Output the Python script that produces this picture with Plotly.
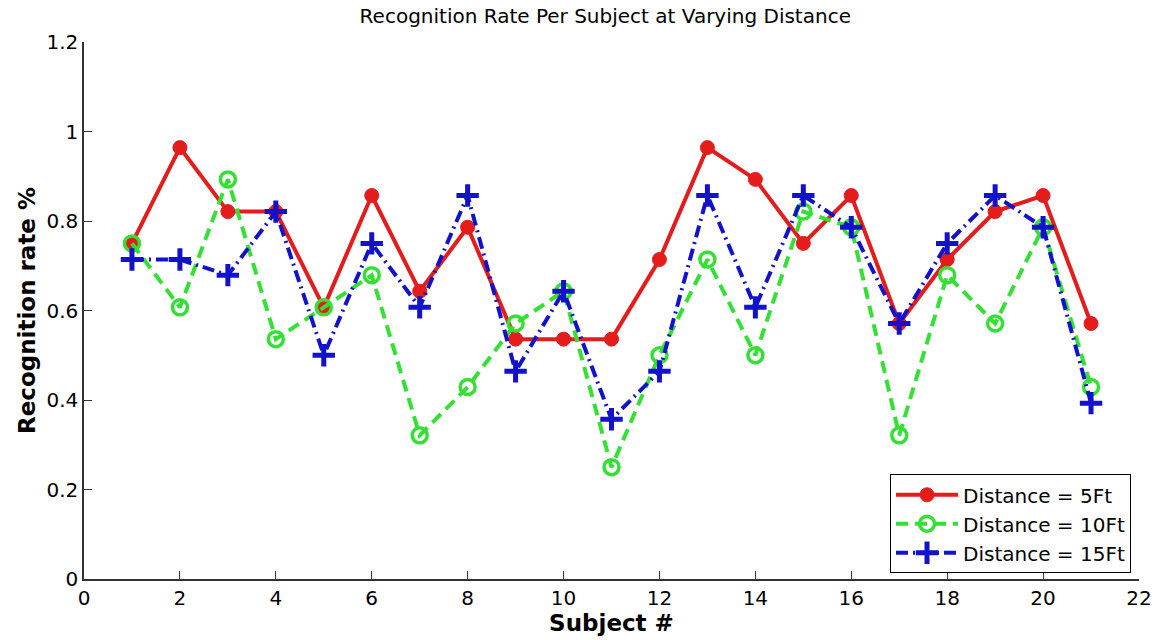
import plotly.graph_objects as go

# Recognition rate for each of the 21 subjects at three capture distances
subjects = list(range(1, 22))
rate_5ft = [0.750, 0.964, 0.821, 0.821, 0.607, 0.857, 0.643, 0.786, 0.536, 0.536, 0.536,
            0.714, 0.964, 0.893, 0.750, 0.857, 0.571, 0.714, 0.821, 0.857, 0.571]
rate_10ft = [0.750, 0.607, 0.893, 0.536, 0.607, 0.679, 0.321, 0.429, 0.571, 0.643, 0.250,
             0.500, 0.714, 0.500, 0.821, 0.786, 0.321, 0.679, 0.571, 0.786, 0.429]
rate_15ft = [0.714, 0.714, 0.679, 0.821, 0.500, 0.750, 0.607, 0.857, 0.464, 0.643, 0.357,
             0.464, 0.857, 0.607, 0.857, 0.786, 0.571, 0.750, 0.857, 0.786, 0.393]

x_ticks = [0, 2, 4, 6, 8, 10, 12, 14, 16, 18, 20, 22]
y_ticks = [0, 0.2, 0.4, 0.6, 0.8, 1.0, 1.2]
y_tick_text = ["0", "0.2", "0.4", "0.6", "0.8", "1", "1.2"]

RED = "#e41c1c"
GREEN = "#35e035"
BLUE = "#1212cc"
FONT = "DejaVu Sans, Verdana, sans-serif"

fig = go.Figure()
fig.add_trace(go.Scatter(
    x=subjects, y=rate_5ft, name="Distance = 5Ft", mode="lines+markers",
    line=dict(color=RED, width=4, dash="solid"),
    marker=dict(symbol="circle", size=14, color=RED, line=dict(color=RED, width=1)),
))
fig.add_trace(go.Scatter(
    x=subjects, y=rate_10ft, name="Distance = 10Ft", mode="lines+markers",
    line=dict(color=GREEN, width=4, dash="12px,7px"),
    marker=dict(symbol="circle-open", size=15, color=GREEN, line=dict(color=GREEN, width=3.5)),
))
fig.add_trace(go.Scatter(
    x=subjects, y=rate_15ft, name="Distance = 15Ft", mode="lines+markers",
    line=dict(color=BLUE, width=4, dash="12px,5px,2px,5px"),
    marker=dict(symbol="cross-thin", size=16, color=BLUE, line=dict(color=BLUE, width=5)),
))

fig.update_layout(
    width=1164, height=640,
    margin=dict(l=84, r=18, t=42, b=61),
    paper_bgcolor="white", plot_bgcolor="white",
    font=dict(family=FONT, color="black", size=20),
    title=dict(text="Recognition Rate Per Subject at Varying Distance",
               xref="container", x=0.52, xanchor="center",
               yref="container", y=0.975, yanchor="middle",
               font=dict(family=FONT, size=20, color="black")),
    showlegend=True,
    legend=dict(x=0.764, y=0.195, xanchor="left", yanchor="top",
                bgcolor="white", bordercolor="black", borderwidth=1,
                font=dict(family=FONT, size=20, color="black"),
                tracegroupgap=0, itemwidth=62),
)
fig.update_xaxes(
    range=[0, 22], tickvals=x_ticks, ticktext=[str(v) for v in x_ticks],
    showline=True, linecolor="#333333", linewidth=1.5, mirror=False,
    ticks="inside", ticklen=8, tickcolor="#333333", showgrid=False, zeroline=False,
    tickfont=dict(family=FONT, size=20, color="black"),
    title=dict(text="<b>Subject #</b>", font=dict(family=FONT, size=23, color="black"), standoff=2),
)
fig.update_yaxes(
    range=[0, 1.2], tickvals=y_ticks, ticktext=y_tick_text,
    showline=True, linecolor="#333333", linewidth=1.5, mirror=False,
    ticks="inside", ticklen=8, tickcolor="#333333", showgrid=False, zeroline=False,
    tickfont=dict(family=FONT, size=20, color="black"),
    title=dict(text="<b>Recognition rate %</b>", font=dict(family=FONT, size=23, color="black"), standoff=4),
)

fig.write_html("out.html")
